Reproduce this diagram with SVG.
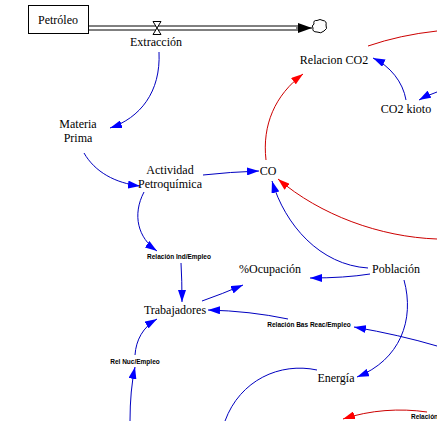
<svg xmlns="http://www.w3.org/2000/svg" width="437" height="421" viewBox="0 0 437 421">
<style>
.t{font-family:"Liberation Serif","DejaVu Serif",serif;font-size:12px;fill:#000;text-anchor:middle}
.s{font-family:"Liberation Sans",Arial,sans-serif;font-size:6.5px;font-weight:bold;fill:#000;text-anchor:middle}
.b{fill:none;stroke:#0000c0;stroke-width:1}
.r{fill:none;stroke:#cc0000;stroke-width:1}
.ba{marker-end:url(#ab)}
.ra{marker-end:url(#ar)}
.pipe{stroke:#000;stroke-width:1;fill:none}
</style>
<defs>
<marker id="ab" markerUnits="userSpaceOnUse" markerWidth="12" markerHeight="8" refX="12" refY="4" orient="auto">
<path d="M0,0 L12,4 L0,8 z" fill="#0000ff"/>
</marker>
<marker id="ar" markerUnits="userSpaceOnUse" markerWidth="12" markerHeight="8" refX="12" refY="4" orient="auto">
<path d="M0,0 L12,4 L0,8 z" fill="#ff0000"/>
</marker>
<marker id="ak" markerUnits="userSpaceOnUse" markerWidth="14" markerHeight="10" refX="14" refY="5" orient="auto">
<path d="M0,0 L14,5 L0,10 z" fill="#000"/>
</marker>
</defs>
<rect width="437" height="421" fill="#fff"/>
<g id="connectors">
<line class="pipe" x1="89" y1="26" x2="300" y2="26"/>
<line class="pipe" x1="89" y1="30" x2="300" y2="30"/>
<line class="pipe" x1="296" y1="28" x2="312" y2="28" marker-end="url(#ak)"/>
<path class="b ba" d="M159,52 C161,92 140,118 110,128"/>
<path class="b ba" d="M84,153 C95,172 115,183 140,186"/>
<path class="b ba" d="M203,175 Q230,172 259,171"/>
<path class="r ra" d="M266,160 C262,125 275,95 303,74"/>
<path class="r" d="M368,46 Q400,35 437,31"/>
<path class="b ba" d="M406,100 C403,82 390,66 373,58"/>
<path class="b ba" d="M437,92 Q428,95 419,100"/>
<path class="r ra" d="M437,239 C380,237 320,215 278,179"/>
<path class="b ba" d="M368,268 C320,265 285,225 272,181"/>
<path class="b ba" d="M370,274 Q345,278 310,278"/>
<path class="b ba" d="M404,280 C415,320 400,360 357,377"/>
<path class="b ba" d="M437,346 Q400,335 354,327"/>
<path class="b ba" d="M288,319 Q250,311 208,310"/>
<path class="b ba" d="M144,192 C132,215 138,238 157,251"/>
<path class="b ba" d="M181,263 Q182,280 182,302"/>
<path class="b ba" d="M202,301 Q222,294 243,285"/>
<path class="b ba" d="M135,355 C136,340 143,327 157,319"/>
<path class="b ba" d="M130,421 Q130,390 135,367"/>
<path class="b" d="M317,370 C280,362 240,380 225,421"/>
<path class="r ra" d="M427,412 C400,408 370,410 343,419"/>
</g>
<g id="petroleo">
<rect x="28.5" y="5.5" width="60" height="28" fill="#fff" stroke="#000"/>
<text class="t" x="58" y="24">Petróleo</text>
</g>
<g id="extraccion">
<path d="M153,21.5 L161,21.5 L153,34.5 L161,34.5 z" fill="#fff" stroke="#000"/>
<text class="t" x="156" y="46">Extracción</text>
</g>
<g id="cloud">
<path d="M314,24 Q313,20 317,20.5 Q320,18.5 323,20.5 Q327,21 326,25 Q328,29 324,31 Q321,34 317,32 Q312,32 313,28 Q311,26 314,24 z" fill="#fff" stroke="#000"/>
</g>
<g id="materia-prima">
<text class="t" x="78" y="128">Materia</text>
<text class="t" x="78" y="142">Prima</text>
</g>
<g id="actividad">
<text class="t" x="170" y="174">Actividad</text>
<text class="t" x="170" y="188">Petroquímica</text>
</g>
<g id="co"><text class="t" x="268" y="175">CO</text></g>
<g id="relacion-co2"><text class="t" x="334" y="64">Relacion CO2</text></g>
<g id="co2-kioto"><text class="t" x="406" y="113">CO2 kioto</text></g>
<g id="poblacion"><text class="t" x="396" y="273">Población</text></g>
<g id="ocupacion"><text class="t" x="270" y="273">%Ocupación</text></g>
<g id="trabajadores"><text class="t" x="175" y="314">Trabajadores</text></g>
<g id="energia"><text class="t" x="336" y="382">Energía</text></g>
<g id="rel-ind"><text class="s" x="179" y="259">Relación Ind/Empleo</text></g>
<g id="rel-bas"><text class="s" x="309" y="327">Relación Bas Reac/Empleo</text></g>
<g id="rel-nuc"><text class="s" x="135" y="364">Rel Nuc/Empleo</text></g>
<g id="rel-edge"><text class="s" x="411" y="419" style="text-anchor:start">Relación</text></g>
</svg>
